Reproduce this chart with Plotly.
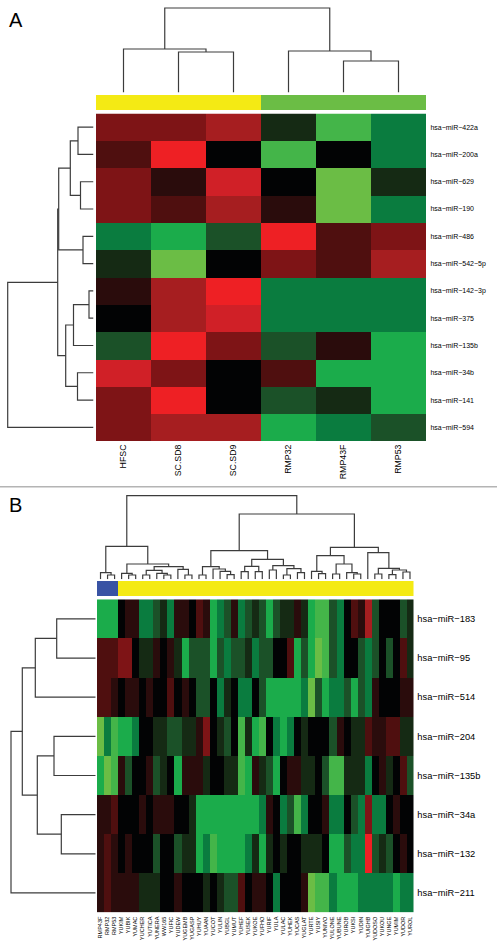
import plotly.graph_objects as go

W, H = 497, 949

# colour levels: 0 black, +1..+6 reds, -1..-6 greens
LEVEL_COLORS = ["#6bbd45", "#44b549", "#1bac4b", "#0a7c3f", "#1b5128", "#152a14", "#020304",
                "#2a0c0c", "#4f0f0f", "#7e1416", "#a61e20", "#d02027", "#ee2024"]

# Panel A
a_rows = ["hsa−miR−422a", "hsa−miR−200a", "hsa−miR−629", "hsa−miR−190", "hsa−miR−486", "hsa−miR−542−5p",
          "hsa−miR−142−3p", "hsa−miR−375", "hsa−miR−135b", "hsa−miR−34b", "hsa−miR−141", "hsa−miR−594"]
a_cols = ["HFSC", "SC.SD8", "SC.SD9", "RMP32", "RMP43F", "RMP53"]
a_values = [
    [3, 3, 4, -1, -5, -3],
    [2, 6, 0, -5, 0, -3],
    [3, 1, 5, 0, -6, -1],
    [3, 2, 4, 1, -6, -3],
    [-3, -4, -2, 6, 2, 3],
    [-1, -6, 0, 3, 2, 4],
    [1, 4, 6, -3, -3, -3],
    [0, 4, 5, -3, -3, -3],
    [-2, 6, 3, -2, 1, -4],
    [5, 3, 0, 2, -4, -4],
    [3, 6, 0, -2, -1, -4],
    [3, 4, 4, -4, -3, -2],
]
a_groups = ["#f4ea14", "#f4ea14", "#f4ea14", "#6bbd45", "#6bbd45", "#6bbd45"]
a_top_merges = [(1, 2, 40.5), (0, 6, 43.5), (4, 5, 31.5), (3, 8, 41.5), (7, 9, 84.5)]
a_left_merges = [(0, 1, 15.5), (2, 3, 13), (12, 13, 23.2), (4, 5, 10.5), (14, 15, 34.8), (6, 7, 4.5),
                 (17, 8, 20), (9, 10, 16), (18, 19, 27.8), (16, 20, 35.8), (21, 11, 85.8)]

# Panel B
b_rows = ["hsa−miR−183", "hsa−miR−95", "hsa−miR−514", "hsa−miR−204",
          "hsa−miR−135b", "hsa−miR−34a", "hsa−miR−132", "hsa−miR−211"]
b_cols = ["RMP43F", "RMP32", "RMP53", "YUKIM", "YUBIK", "YUMAC", "YUCHER", "YUTICA", "YUNERA", "WW165",
          "YUFIC", "YUDEW", "YUGEMB", "YUGASP", "YUHUY", "YUAAN", "YUCOT", "YULIN", "YUBGL", "YUMUT",
          "YUHEF", "YUSEK", "YUKOE", "YUFHO", "YURIF", "YULA", "YULAC", "YUHEK", "YUCAS", "YUGLAT",
          "YURTE", "YUSIY", "YUNIVO", "YULONE", "YUBUNE", "YUROB", "YUKSI", "YUDIN", "YUIGHB", "YUDOSO",
          "YUKOU", "YUNGE", "YUMIM", "YUDOR", "YUROL"]
b_values = [
    [-4, -4, -4, 0, 1, 1, -3, -3, -2, -1, -3, 1, 1, 0, 2, 1, -4, -3, -2, 1, -3, -2, -1,
     -2, -4, -2, -1, -1, 1, -1, -4, -5, -5, -2, -3, 0, 2, 1, 4, -2, 0, 0, 0, -2, -1],
    [2, 2, 2, 3, 3, 0, -1, -1, 1, 0, 1, -1, -4, -2, -2, -2, -4, -2, -3, -2, -2, -1, -3,
     -2, -2, 0, 0, 2, -4, -2, -4, -6, -5, -2, -3, 0, 0, -2, -3, -2, 0, -2, 0, 2, -1],
    [2, 2, 1, 0, 1, 1, 0, 1, 0, 0, 2, 0, 1, 0, -2, -2, 0, -3, -1, 0, -3, -3, 0,
     -2, -4, -4, -4, -4, -4, -3, -6, -2, -4, -3, -3, -2, -4, -2, -3, 1, 0, 0, 0, 1, 1],
    [-6, -3, -5, -4, -4, -3, 0, 0, -1, -1, -2, -2, -1, -1, 1, 3, 0, -1, -2, 0, -5, -1, -4,
     -5, 0, -3, -4, -3, 0, -1, 0, 0, 0, -2, 1, 0, -1, -1, 2, 1, 1, 2, 2, -1, -1],
    [-4, -6, -5, 1, -2, 0, 0, 1, -2, -1, 0, -4, 1, 1, 1, -1, 0, 0, -1, -1, -5, -4, 1,
     -1, -2, -4, 0, 1, 1, -1, -1, 0, -2, -5, -5, -1, -1, -1, -3, 0, 1, -1, 0, 2, -2],
    [1, 1, 2, 0, 0, 0, 1, 0, 1, 1, 1, 0, 0, -1, -4, -4, -4, -4, -4, -4, -4, -4, -4,
     -3, 1, 0, -3, -2, -5, -3, 0, 0, 1, -3, -3, 0, -2, -3, 3, -3, -3, 0, 1, 0, 0],
    [1, 2, 1, 0, 1, 0, 0, 0, -2, 0, 0, -2, -1, -1, -4, -3, -5, -4, -4, -4, -4, -3, -1,
     -4, -1, 0, -1, 0, 0, -1, -1, -1, 0, -4, -4, -2, -3, -3, 6, -2, -1, -2, 0, 1, 0],
    [1, 2, 1, 1, 1, 1, -1, -1, -1, 0, 0, 1, 0, 0, 0, -1, 0, -1, -2, -2, 2, 0, 1,
     1, 0, -3, 0, 0, 0, 1, -6, -5, -5, -3, -4, -4, -4, -3, -3, -3, -3, -3, -4, -3, -3],
]
b_groups = ["#3953a4"] * 3 + ["#f4ea14"] * 42
b_top_merges = [
    (1, 2, 4.3), (0, 45, 6.7), (4, 5, 4.3), (3, 47, 6), (6, 7, 4.3), (9, 10, 4.3), (8, 50, 6),
    (49, 51, 9), (12, 13, 4.3), (11, 53, 10), (52, 54, 12.7), (48, 55, 15.3), (46, 56, 33),
    (14, 15, 4.3), (18, 19, 4.7), (17, 59, 8), (16, 60, 10.3), (58, 61, 12.7), (20, 21, 7.7),
    (22, 23, 7.7), (63, 64, 13), (24, 25, 9.3), (26, 27, 4.3), (28, 29, 6.7), (67, 68, 10.7),
    (66, 69, 13.7), (65, 70, 20), (62, 71, 28.7), (31, 32, 5.7), (30, 73, 8), (33, 34, 5.3),
    (36, 37, 5.3), (35, 76, 6.7), (75, 77, 15.3), (74, 78, 23.7), (39, 40, 5.3), (41, 42, 4.7),
    (43, 44, 7.3), (81, 82, 9.3), (80, 83, 11), (38, 84, 26.7), (79, 85, 32), (72, 86, 65.3),
    (57, 87, 83.7),
]
b_left_merges = [(0, 1, 39), (8, 2, 60.4), (3, 4, 41.7), (5, 6, 34.4), (10, 11, 58.4), (9, 12, 73.4), (13, 7, 84.7)]

FONT = "Liberation Sans, Arial, sans-serif"
LINE = "#3c3c3c"
TEXT = "#000000"
fig = go.Figure()
axis_count = [0]
level_scale = []
for i, c in enumerate(LEVEL_COLORS):
    level_scale += [[i / 13, c], [(i + 1) / 13, c]]


def new_axes(x_px, y_px, xopts, yopts):
    axis_count[0] += 1
    n = axis_count[0]
    suffix = "" if n == 1 else str(n)
    base = dict(showgrid=False, zeroline=False, showline=False, showticklabels=False, ticks="", fixedrange=True)
    fig.layout["xaxis" + suffix] = dict(base, domain=[x_px[0] / W, x_px[1] / W], anchor="y" + suffix, **xopts)
    fig.layout["yaxis" + suffix] = dict(base, domain=[1 - y_px[1] / H, 1 - y_px[0] / H], anchor="x" + suffix, **yopts)
    return "x" + suffix, "y" + suffix


def dendro_segments(merges, n):
    pos = {i: float(i) for i in range(n)}
    hgt = {i: 0.0 for i in range(n)}
    a, h = [], []
    for k, (l, r, d) in enumerate(merges):
        a += [pos[l], pos[l], pos[r], pos[r], None]
        h += [hgt[l], d, d, hgt[r], None]
        pos[n + k] = (pos[l] + pos[r]) / 2
        hgt[n + k] = d
    return a, h


def panel(rows, cols, values, groups, top_merges, left_merges, heat_x, heat_y, bar_y, top_y, left_x,
          row_font, col_font, row_gap, col_standoff):
    nr, nc = len(rows), len(cols)
    xa, ya = new_axes(heat_x, heat_y,
                      dict(showticklabels=True, tickmode="array", tickvals=cols, ticktext=cols, tickangle=-90,
                           ticks="outside", ticklen=1, tickcolor="rgba(0,0,0,0)", tickwidth=0,
                           ticklabelstandoff=col_standoff,
                           tickfont=dict(family=FONT, size=col_font, color=TEXT), type="category"),
                      dict(showticklabels=True, tickmode="array", tickvals=rows, ticktext=rows, side="right",
                           ticks="outside", ticklen=row_gap, tickcolor="rgba(0,0,0,0)", tickwidth=0,
                           tickfont=dict(family=FONT, size=row_font, color=TEXT), type="category",
                           autorange="reversed"))
    fig.add_trace(go.Heatmap(z=values, x=cols, y=rows, xaxis=xa, yaxis=ya, zmin=-6.5, zmax=6.5,
                             colorscale=level_scale, showscale=False, hoverinfo="skip"))
    # group colour bar
    uniq = list(dict.fromkeys(groups))
    scale = []
    for i, c in enumerate(uniq):
        scale += [[i / len(uniq), c], [(i + 1) / len(uniq), c]]
    xa, ya = new_axes(heat_x, bar_y, dict(range=[-0.5, nc - 0.5]), dict(range=[-0.5, 0.5]))
    fig.add_trace(go.Heatmap(z=[[uniq.index(g) for g in groups]], xaxis=xa, yaxis=ya, zmin=-0.5,
                             zmax=len(uniq) - 0.5, colorscale=scale, showscale=False, hoverinfo="skip"))
    # top dendrogram
    a, h = dendro_segments(top_merges, nc)
    xa, ya = new_axes(heat_x, top_y, dict(range=[-0.5, nc - 0.5]), dict(range=[0, top_y[1] - top_y[0]]))
    fig.add_trace(go.Scatter(x=a, y=h, mode="lines", line=dict(color=LINE, width=1.2), xaxis=xa, yaxis=ya,
                             hoverinfo="skip", showlegend=False))
    # left dendrogram
    a, h = dendro_segments(left_merges, nr)
    xa, ya = new_axes(left_x, heat_y, dict(range=[left_x[1] - left_x[0], 0]), dict(range=[nr - 0.5, -0.5]))
    fig.add_trace(go.Scatter(x=h, y=a, mode="lines", line=dict(color=LINE, width=1.2), xaxis=xa, yaxis=ya,
                             hoverinfo="skip", showlegend=False))


panel(a_rows, a_cols, a_values, a_groups, a_top_merges, a_left_merges,
      heat_x=(96, 426), heat_y=(113.5, 441), bar_y=(95, 110), top_y=(2, 92.5), left_x=(2, 93.5),
      row_font=7, col_font=8.8, row_gap=2, col_standoff=-2)
panel(b_rows, b_cols, b_values, b_groups, b_top_merges, b_left_merges,
      heat_x=(97, 413.5), heat_y=(599.3, 912.5), bar_y=(581, 596), top_y=(490, 579.3), left_x=(2, 95.7),
      row_font=9.3, col_font=5.5, row_gap=1, col_standoff=0)

fig.add_annotation(text="A", x=7 / W, y=1 - 7 / H, xref="paper", yref="paper", showarrow=False,
                   xanchor="left", yanchor="top", font=dict(family=FONT, size=20, color="black"))
fig.add_annotation(text="B", x=7 / W, y=1 - 492 / H, xref="paper", yref="paper", showarrow=False,
                   xanchor="left", yanchor="top", font=dict(family=FONT, size=20, color="black"))
fig.add_shape(type="line", xref="paper", yref="paper", x0=0, x1=1, y0=1 - 486.7 / H, y1=1 - 486.7 / H,
              line=dict(color="#b4b4b4", width=1.5))

fig.update_layout(width=W, height=H, autosize=False, margin=dict(l=0, r=0, t=0, b=0),
                  paper_bgcolor="white", plot_bgcolor="white", showlegend=False)
fig.write_html("out.html", config=dict(displayModeBar=False),
               post_script="document.body.style.margin='0';document.body.style.overflow='hidden';")
